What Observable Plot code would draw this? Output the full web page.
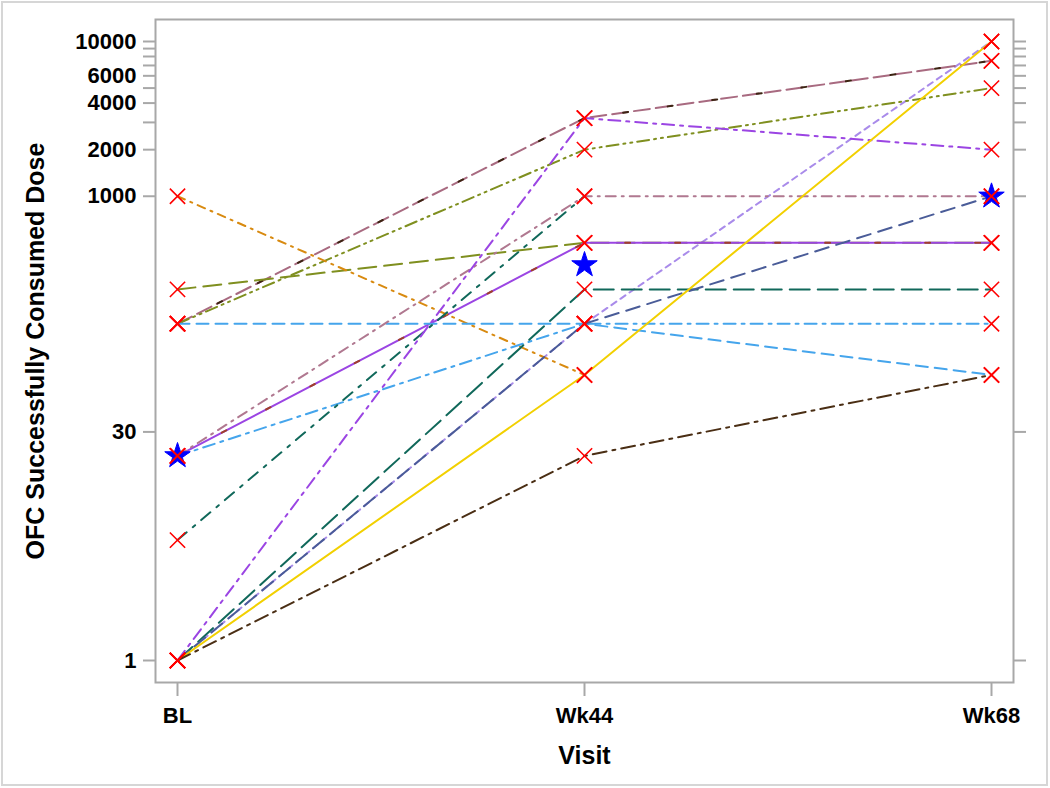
<!DOCTYPE html>
<html><head><meta charset="utf-8">
<script src="https://cdn.jsdelivr.net/npm/d3@7"></script>
<script src="https://cdn.jsdelivr.net/npm/@observablehq/plot@0.6"></script>
<style>
body{margin:0;background:#fff;}
#wrap{position:relative;width:1050px;height:788px;overflow:hidden;}
#wrap svg{display:block;}
#border{position:absolute;left:1px;top:1px;width:1047px;height:785px;border:2px solid #d6d6d6;box-sizing:border-box;pointer-events:none;}
</style>
</head><body><div id="wrap"><div id="border"></div></div>
<script>
// ---- data ----
const visits = ["BL", "Wk44", "Wk68"];
const subjLavender   = [1, 150, 10000];
const subjMauveA     = [150, 3200, 7500];
const subjBrownA     = [150, 3200, 7500];
const subjOliveA     = [150, 2000, 5000];
const subjOliveB     = [250, 500, 500];
const subjPurpleA    = [21, 500, 500];
const subjRedA       = [21, 500, 500];
const subjOrange     = [1000, 70, null];
const subjBlueA      = [150, 150, 70];
const subjBlueB      = [21, 150, 150];
const subjMauveB     = [21, 1000, 1000];
const subjTealA      = [6, 1000, null];
const subjTealB      = [1, 250, 250];
const subjPurpleB    = [1, 3200, 2000];
const subjNavy       = [1, 150, 1000];
const subjYellow     = [1, 70, 10000];
const subjBrownB     = [1, 21, 70];
const starVisits = ["BL", "Wk44", "Wk68"];
const starDoses  = [21, 360, 1000];
const yTicks  = [1, 30, 1000, 2000, 3000, 4000, 5000, 6000, 7000, 8000, 9000, 10000];
const yLabels = [1, 30, 1000, 2000, 4000, 6000, 10000];

// ---- styles ----
const series = [
  {v: subjLavender, stroke: "#A98BEA", dash: "6,5"},
  {v: subjMauveA,   stroke: "#A86A80", dash: "16,6"},
  {v: subjBrownA,   stroke: "#3C2412", dash: "5,40"},
  {v: subjOliveA,   stroke: "#7F8F1F", dash: "12,5,2,5,2,5"},
  {v: subjOliveB,   stroke: "#7F8F1F", dash: "18,8"},
  {v: subjPurpleA,  stroke: "#9B45E3", dash: null},
  {v: subjRedA,     stroke: "#A0402A", dash: "5,45"},
  {v: subjOrange,   stroke: "#D88A10", dash: "8,6,2,6"},
  {v: subjBlueA,    stroke: "#45A5EC", dash: "12,7"},
  {v: subjBlueB,    stroke: "#45A5EC", dash: "12,6,3,6"},
  {v: subjMauveB,   stroke: "#B07890", dash: "10,6,2,6"},
  {v: subjTealA,    stroke: "#10685A", dash: "12,8,3,8"},
  {v: subjTealB,    stroke: "#10685A", dash: "20,8"},
  {v: subjPurpleB,  stroke: "#9B45E3", dash: "12,6,3,6"},
  {v: subjNavy,     stroke: "#4A5C98", dash: "14,8"},
  {v: subjYellow,   stroke: "#F2D000", dash: null},
  {v: subjBrownB,   stroke: "#4A2E14", dash: "14,6,3,6"}
];

const rows = s => visits.map((visit, j) => ({visit, dose: s.v[j]})).filter(d => d.dose != null);
const points = series.flatMap(rows);
const stars = starVisits.map((visit, i) => ({visit, dose: starDoses[i]}));
const grey = "#a8a8a8";
const font = {fontSize: 22, fontWeight: "bold", fill: "black"};
const labelFont = {fontSize: 25, fontWeight: "bold", fill: "black"};

const chart = Plot.plot({
  width: 1050,
  height: 788,
  marginLeft: 155,
  marginRight: 37,
  marginTop: 19,
  marginBottom: 106,
  style: "font-family:'Liberation Sans', Arial, sans-serif; font-size:22px; font-weight:bold; color:black; background:transparent;",
  x: {type: "point", domain: visits, range: [177, 991], padding: 0},
  y: {type: "log", domain: [1, 10000], range: [660, 41]},
  marks: [
    Plot.frame({stroke: grey, strokeWidth: 2}),
    Plot.axisY({ticks: yTicks, anchor: "left", tickSize: 12, stroke: grey, strokeWidth: 2, tickFormat: () => "", label: null}),
    Plot.axisY({ticks: yTicks, anchor: "right", tickSize: 12, stroke: grey, strokeWidth: 2, tickFormat: () => "", label: null}),
    Plot.axisX({anchor: "bottom", tickSize: 14, stroke: grey, strokeWidth: 2, tickFormat: () => "", label: null}),
    Plot.text(yLabels, {y: d => d, text: d => String(d), frameAnchor: "left", textAnchor: "end", dx: -19, ...font}),
    Plot.text(visits, {x: d => d, text: d => d, frameAnchor: "bottom", lineAnchor: "middle", dy: 33, ...font}),
    ...series.map(s => Plot.line(rows(s), {x: "visit", y: "dose", stroke: s.stroke, strokeWidth: 2,
      strokeDasharray: s.dash || undefined})),
    Plot.dot(stars, {x: "visit", y: "dose", symbol: "star", r: 8, fill: "#0000FF", stroke: "#0000FF", strokeWidth: 1}),
    Plot.dot(points, {x: "visit", y: "dose", symbol: "times", r: 7, stroke: "#FF0000", strokeWidth: 1.6}),
    Plot.text(["OFC Successfully Consumed Dose"], {text: d => d, frameAnchor: "left", textAnchor: "middle", lineAnchor: "middle", dx: -120, rotate: -90, ...labelFont}),
    Plot.text(["Visit"], {text: d => d, frameAnchor: "bottom", textAnchor: "middle", lineAnchor: "middle", dy: 73, ...labelFont})
  ]
});
document.getElementById("wrap").prepend(chart);
</script>
</body></html>
